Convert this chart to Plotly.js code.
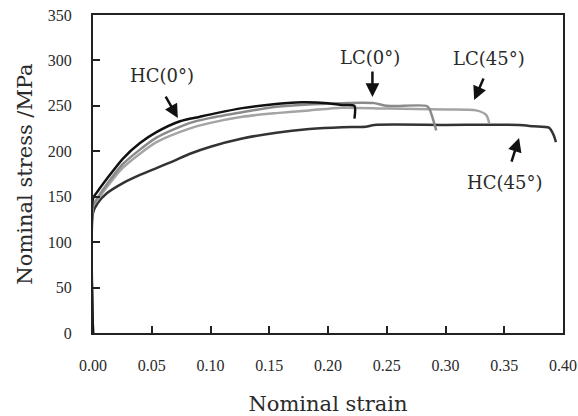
<!DOCTYPE html>
<html>
<head>
<meta charset="utf-8">
<script src="https://cdn.plot.ly/plotly-3.0.1.min.js"></script>
<style>html,body{margin:0;padding:0;background:#fff;}#chart{width:578px;height:416px;}</style>
</head>
<body>
<div id="chart"></div>
<script>
// HC(0°)
const hc0Strain = [0, 0, 0.004, 0.012, 0.0255, 0.040, 0.054, 0.074, 0.091, 0.105, 0.127, 0.148, 0.178, 0.200, 0.212, 0.2225, 0.2225];
const hc0Stress = [0, 148, 156, 170, 192, 209, 221, 233, 238, 242, 247.5, 251, 254, 253, 251, 250, 236];
// LC(0°)
const lc0Strain = [0, 0, 0.004, 0.012, 0.0255, 0.054, 0.082, 0.099, 0.127, 0.156, 0.212, 0.2395, 0.250, 0.2837, 0.2862, 0.2921];
const lc0Stress = [0, 140, 149, 164, 186, 215, 231, 236.5, 243, 249, 253, 253, 250, 250, 247, 223];
// LC(45°)
const lc45Strain = [0, 0, 0.004, 0.012, 0.0255, 0.054, 0.082, 0.099, 0.127, 0.156, 0.184, 0.212, 0.250, 0.300, 0.326, 0.3346, 0.3372];
const lc45Stress = [0, 139, 147, 161, 182, 210, 225, 231, 238, 242, 245, 248, 247, 246, 245, 240, 231];
// HC(45°)
const hc45Strain = [0, 0, 0.004, 0.012, 0.0255, 0.040, 0.054, 0.068, 0.082, 0.100, 0.127, 0.156, 0.184, 0.212, 0.232, 0.2395, 0.300, 0.3626, 0.375, 0.388, 0.392, 0.394];
const hc45Stress = [0, 132, 143, 154, 165, 174, 181.5, 189, 197, 205, 214, 220.5, 224.5, 226.5, 227, 229, 229, 229, 227.5, 226, 218, 210];

const xTicks = [0, 0.05, 0.10, 0.15, 0.20, 0.25, 0.30, 0.35, 0.40];
const xTickText = ['0.00','0.05','0.10','0.15','0.20','0.25','0.30','0.35','0.40'];
const yTicks = [0, 50, 100, 150, 200, 250, 300, 350];

const labels = ['HC(0°)', 'LC(0°)', 'LC(45°)', 'HC(45°)'];
const labelX = [0.0586, 0.2361, 0.3372, 0.3499];
const labelY = [282.9, 302.7, 301.6, 166.2];
const arrowX = [0.0722, 0.2378, 0.3244, 0.3626];
const arrowY = [236.6, 259.7, 256.4, 214.6];

const font = 'DejaVu Serif, Liberation Serif, serif';
const tickFontFamily = 'Liberation Serif, Times New Roman, serif';
const txt = '#2a2a2a';

function line(color) {
  return {color: color, width: 2.5, shape: 'spline', smoothing: 0.7};
}

const traces = [
  {x: hc45Strain, y: hc45Stress, mode: 'lines', line: line('#333333')},
  {x: lc45Strain, y: lc45Stress, mode: 'lines', line: line('#a4a4a4')},
  {x: lc0Strain, y: lc0Stress, mode: 'lines', line: line('#8a8a8a')},
  {x: hc0Strain, y: hc0Stress, mode: 'lines', line: line('#111111')}
];

const arrowOffsets = [[-13, -23], [0, -27], [10, -23], [-8, 25]];
const annotations = [];
labels.forEach((t, i) => {
  annotations.push({x: labelX[i], y: labelY[i], xref: 'x', yref: 'y', text: t, showarrow: false,
    font: {family: font, size: 18, color: txt}});
  annotations.push({x: arrowX[i], y: arrowY[i], xref: 'x', yref: 'y', text: '', showarrow: true,
    ax: arrowOffsets[i][0], ay: arrowOffsets[i][1], arrowhead: 2, arrowsize: 1.1, arrowwidth: 2.5, arrowcolor: '#111'});
});

const layout = {
  width: 578, height: 416,
  margin: {l: 93, r: 15, t: 15, b: 83},
  paper_bgcolor: '#fff', plot_bgcolor: '#fff',
  showlegend: false,
  font: {family: font, color: txt},
  xaxis: {
    range: [0, 0.4], tickvals: xTicks, ticktext: xTickText,
    ticks: 'inside', ticklen: 7, tickwidth: 2, tickcolor: '#222',
    showline: true, linewidth: 2, linecolor: '#222', mirror: true,
    showgrid: false, zeroline: false,
    tickfont: {family: tickFontFamily, size: 16, color: txt},
    ticklabelstandoff: 17, ticklabeloverflow: 'allow',
    title: {text: 'Nominal strain', font: {family: font, size: 21, color: txt}, standoff: 24}
  },
  yaxis: {
    range: [0, 350], tickvals: yTicks,
    ticks: 'inside', ticklen: 7, tickwidth: 2, tickcolor: '#222',
    showline: true, linewidth: 2, linecolor: '#222', mirror: true,
    showgrid: false, zeroline: false,
    tickfont: {family: tickFontFamily, size: 16, color: txt},
    ticklabelstandoff: 16,
    title: {text: 'Nominal stress /MPa', font: {family: font, size: 21, color: txt}, standoff: 9}
  },
  annotations: annotations
};

Plotly.newPlot('chart', traces, layout, {displayModeBar: false, staticPlot: true});
</script>
</body>
</html>
